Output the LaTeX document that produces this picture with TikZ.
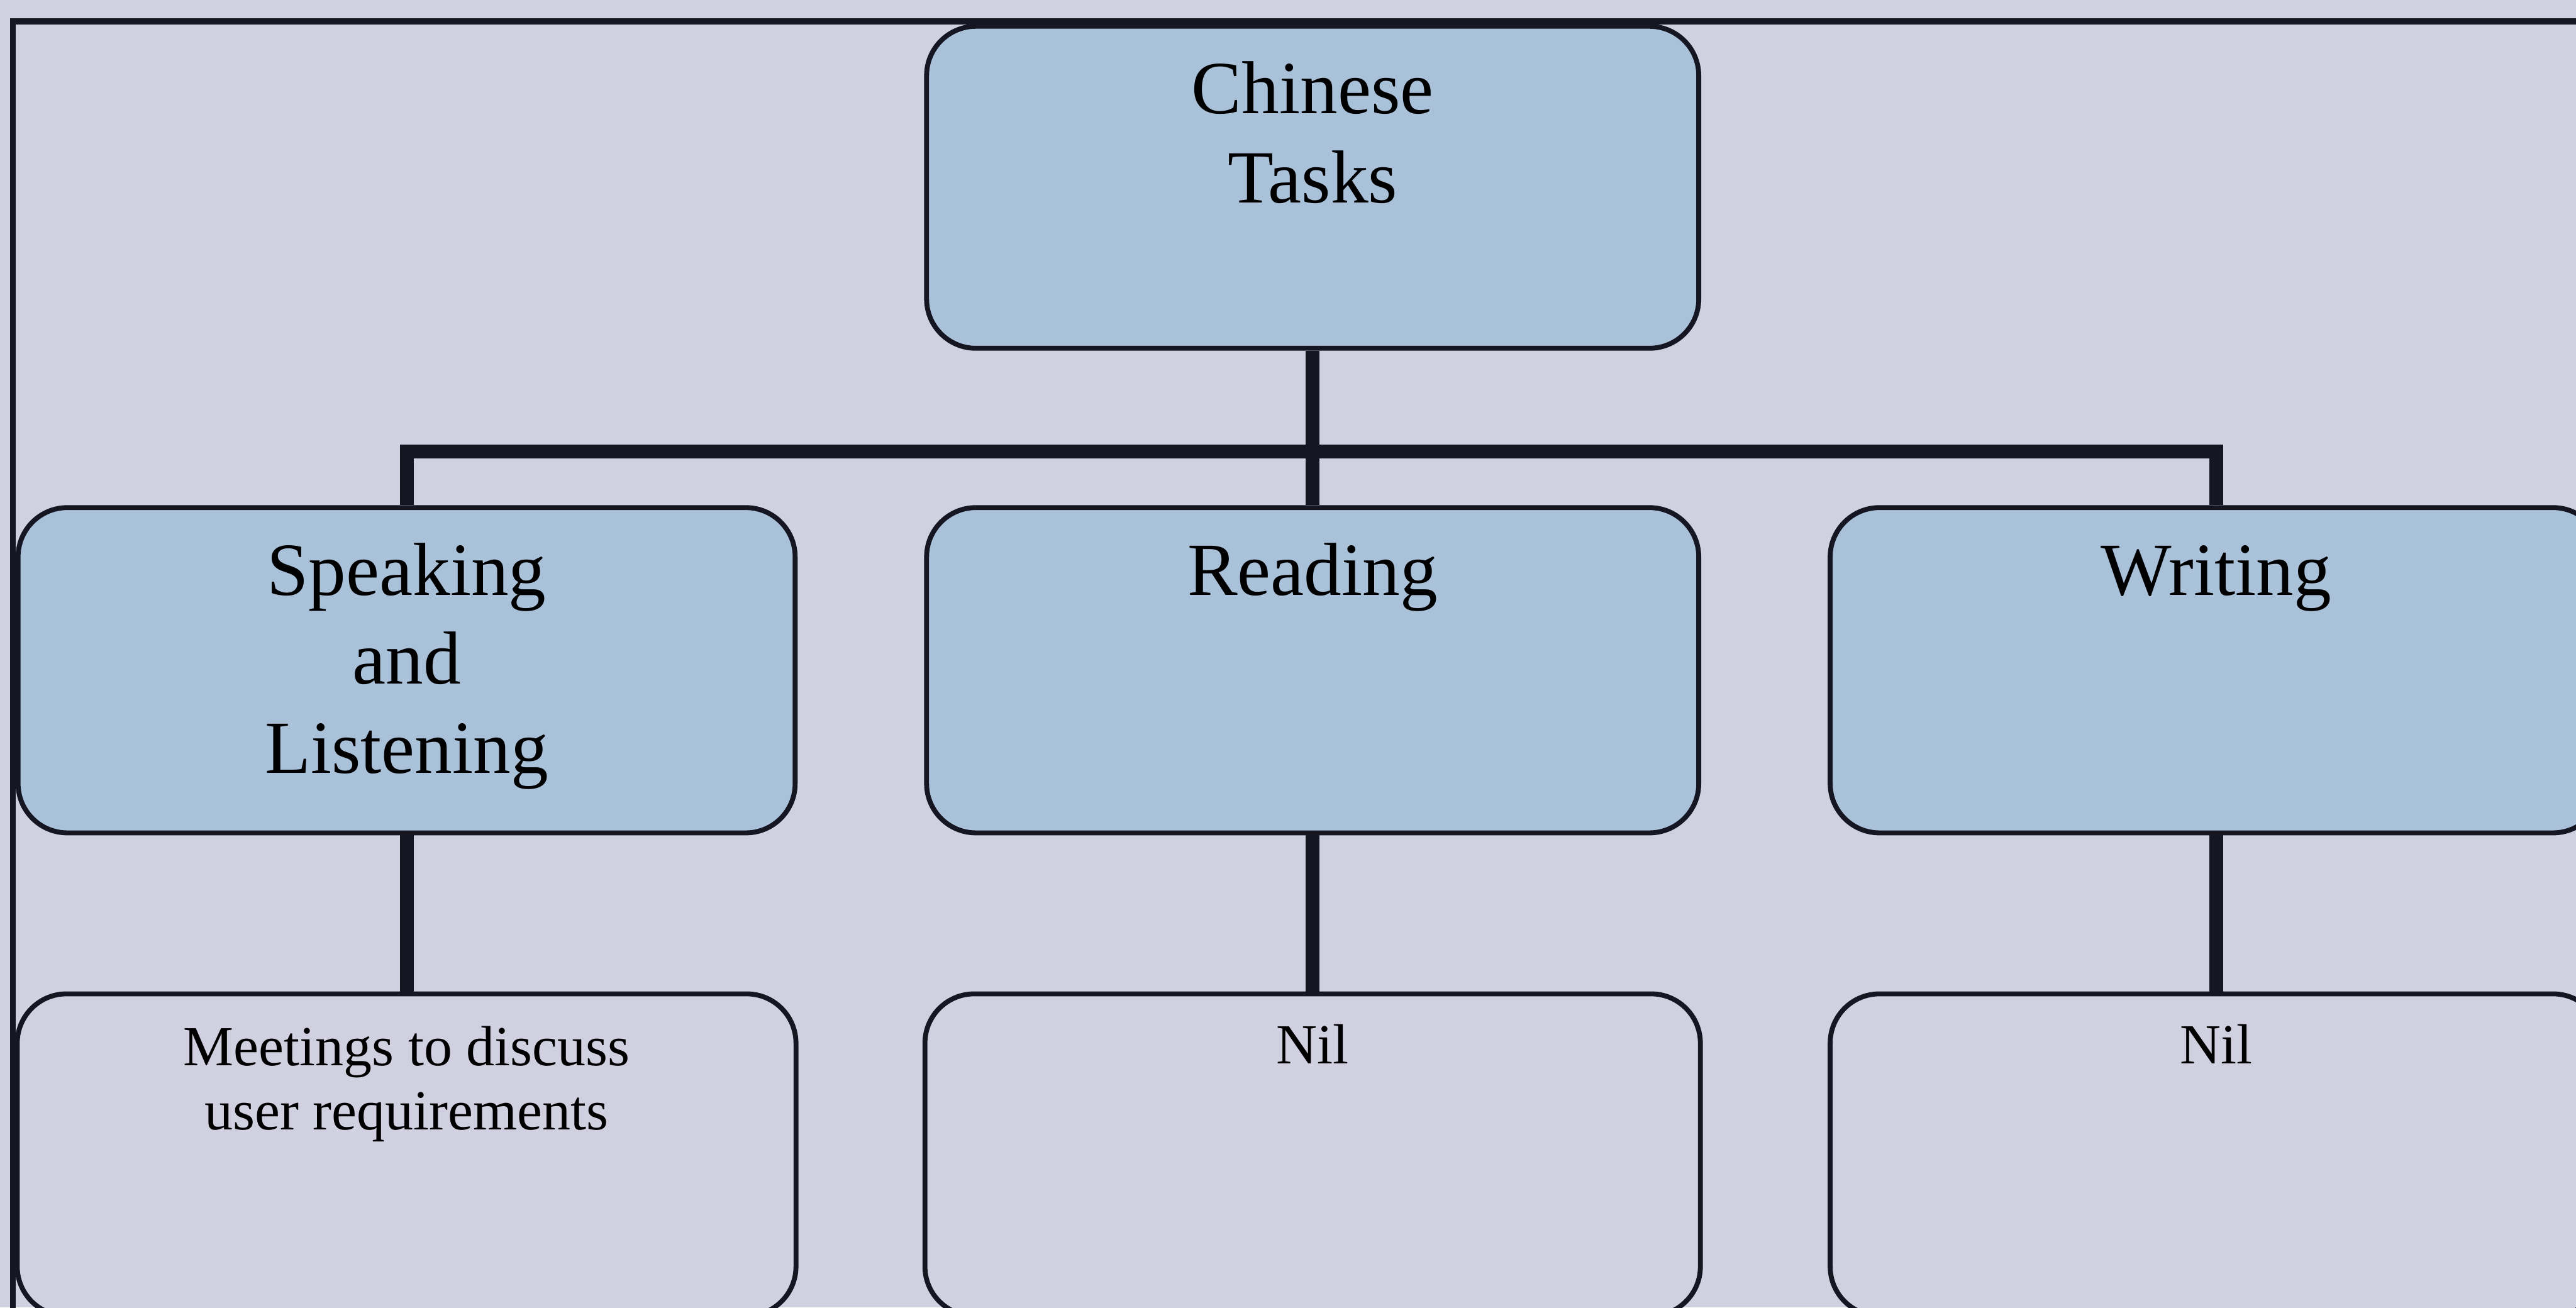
\documentclass[tikz,border=0pt]{standalone}
\usepackage{fontspec}
\setmainfont{Liberation Serif}

\definecolor{paper}{RGB}{209,208,225}
\definecolor{taskblue}{RGB}{170,193,218}
\definecolor{ink}{RGB}{22,22,34}

\begin{document}
\begin{tikzpicture}[
  box/.style={draw=ink, line width=0.85pt, rounded corners=0.3cm,
              minimum width=4.70cm, minimum height=1.96cm, inner sep=0pt},
  task/.style={box, fill=taskblue},
  detail/.style={box, fill=paper},
  conn/.style={draw=ink, line width=2.4pt},
  frameline/.style={draw=ink, line width=1.0pt},
  bigtext/.style={anchor=north, inner sep=0pt, align=center,
                  font=\fontsize{13}{15.4}\selectfont},
  smalltext/.style={anchor=north, inner sep=0pt, align=center,
                    font=\fontsize{9.8}{11.1}\selectfont},
]
% page area and paper colour
\useasboundingbox (0,0) rectangle (15.68,-7.96);
\clip (0,0) rectangle (15.68,-7.96);
\fill[paper] (0,0) rectangle (15.68,-7.96);

% outer frame (only its top and left sides fall on the page)
\draw[frameline] (0.08,-9) -- (0.08,-0.13) -- (17,-0.13);

% top level
\node[task, minimum height=1.96cm] (top) at (7.99,-1.14) {};

% second level
\node[task, minimum height=1.98cm, minimum width=4.73cm] (sl) at (2.475,-4.08) {};
\node[task, minimum height=1.98cm] (rd) at (7.99,-4.08) {};
\node[task, minimum height=1.98cm] (wr) at (13.49,-4.08) {};

% third level
\node[detail, minimum width=4.74cm] (m1) at (2.475,-7.03) {};
\node[detail, minimum width=4.72cm] (m2) at (7.99,-7.03) {};
\node[detail] (m3) at (13.49,-7.03) {};

% connectors
\coordinate (bar) at (0,-2.75);
\draw[conn] (top.south) -- (rd.north);
\draw[conn] (sl.north) |- (bar -| top.south) -| (wr.north);
\draw[conn] (sl.south) -- (m1.north);
\draw[conn] (rd.south) -- (m2.north);
\draw[conn] (wr.south) -- (m3.north);

% labels
\node[bigtext] (topT) at ([yshift=-4.6pt]top.north) {\strut Chinese\\Tasks};
\node[bigtext] (slT) at ([yshift=-4.6pt]sl.north) {\strut Speaking\\and\\Listening};
\node[bigtext] (rdT) at ([yshift=-4.6pt]rd.north) {\strut Reading};
\node[bigtext] (wrT) at ([yshift=-4.6pt]wr.north) {\strut Writing};

\node[smalltext] (m1T) at ([yshift=-4.9pt]m1.north) {\strut Meetings to discuss\\user requirements};
\node[smalltext] (m2T) at ([yshift=-4.6pt]m2.north) {\strut Nil};
\node[smalltext] (m3T) at ([yshift=-4.6pt]m3.north) {\strut Nil};
\end{tikzpicture}
\end{document}
